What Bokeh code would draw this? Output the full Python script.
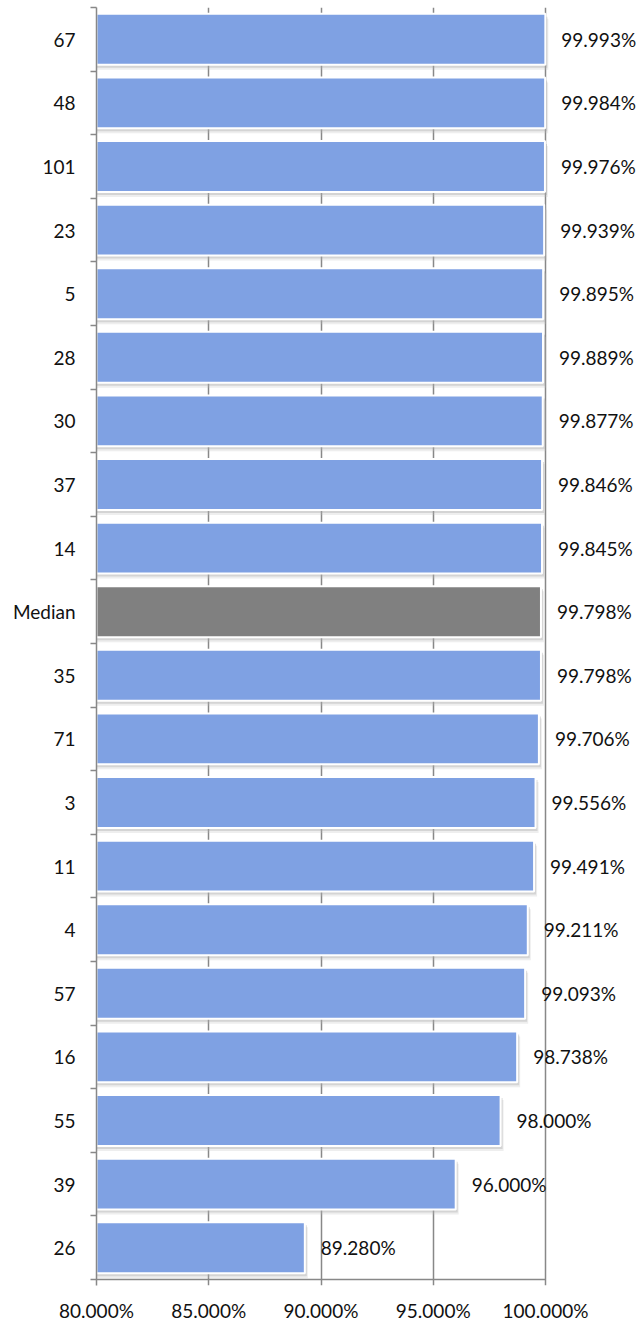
from bokeh.plotting import figure
from bokeh.models import FixedTicker, PrintfTickFormatter, ColumnDataSource, LabelSet
from bokeh.core.properties import value
from bokeh.embed import file_html
from bokeh.resources import INLINE

# data, top to bottom
categories = ["67", "48", "101", "23", "5", "28", "30", "37", "14", "Median",
              "35", "71", "3", "11", "4", "57", "16", "55", "39", "26"]
values = [99.993, 99.984, 99.976, 99.939, 99.895, 99.889, 99.877, 99.846, 99.845, 99.798,
          99.798, 99.706, 99.556, 99.491, 99.211, 99.093, 98.738, 98.000, 96.000, 89.280]
x_ticks = [80, 85, 90, 95, 100]

BLUE = "#7FA1E3"
GRAY = "#808080"
FONT = "Lato"
FS = "19px"
AXIS = "#888888"

n = len(categories)
ys = [n - 1 - i for i in range(n)]
colors = [GRAY if c == "Median" else BLUE for c in categories]
labels = ["%.3f%%" % v for v in values]

W, H = 636, 1324
LEFT, TOP, BOTTOM = 96, 7, 35
TICK = 6
unit_x = 22.45
frame_h = H - BOTTOM - TOP
unit_y = (frame_h - TICK) / n
eps = TICK / unit_y
x_end = 80 + (W - LEFT) / unit_x

p = figure(width=W, height=H, x_range=(80, x_end), y_range=(-0.5 - eps, n - 0.5),
           output_backend="svg", toolbar_location=None,
           min_border_left=LEFT, min_border_right=0, min_border_top=TOP, min_border_bottom=BOTTOM)
p.outline_line_color = None
p.background_fill_color = "white"

px_y = 1 / unit_y
px_x = 1 / unit_x

# shadow layers
src_sh = ColumnDataSource(dict(y=[y - 3 * px_y for y in ys], right=[v + 2 * px_x for v in values]))
p.hbar(y="y", left=80, right="right", height=0.8, source=src_sh,
       fill_color="#9a9a9a", fill_alpha=0.35, line_color=None)
src_sh2 = ColumnDataSource(dict(y=[y - 5 * px_y for y in ys], right=[v + 3 * px_x for v in values]))
p.hbar(y="y", left=80, right="right", height=0.8, source=src_sh2,
       fill_color="#bbbbbb", fill_alpha=0.25, line_color=None)

src = ColumnDataSource(dict(y=ys, right=values, color=colors, label=labels, cat=categories))
p.hbar(y="y", left=80, right="right", height=0.8, source=src,
       fill_color="color", line_color="white", line_width=2)

# bottom axis line (from 80% to 100% only)
p.segment(x0=[x_ticks[0]], x1=[x_ticks[-1]], y0=[-0.5], y1=[-0.5],
          line_color=AXIS, line_width=1.5)

ls = LabelSet(x="right", y="y", text="label", source=src, x_offset=16,
              text_baseline="middle", text_align="left",
              text_font=value(FONT), text_font_size=value(FS), text_color="#111111")
p.add_layout(ls)

# x axis
p.xaxis.ticker = FixedTicker(ticks=x_ticks)
p.xaxis.formatter = PrintfTickFormatter(format="%.3f%%")
p.xaxis.major_label_text_font = FONT
p.xaxis.major_label_text_font_size = FS
p.xaxis.major_label_text_color = "#111111"
p.xaxis.axis_line_color = None
p.xaxis.major_tick_line_color = None
p.xaxis.major_tick_out = 0
p.xaxis.major_tick_in = 0
p.xaxis.minor_tick_line_color = None
p.xaxis.minor_tick_out = 0
p.xaxis.major_label_standoff = 13

# y axis
p.yaxis.ticker = FixedTicker(ticks=ys, minor_ticks=[k - 0.5 for k in range(n + 1)])
p.yaxis.major_label_overrides = {y: c for y, c in zip(ys, categories)}
p.yaxis.major_label_text_font = FONT
p.yaxis.major_label_text_font_size = FS
p.yaxis.major_label_text_color = "#111111"
p.yaxis.axis_line_color = AXIS
p.yaxis.axis_line_width = 1.5
p.yaxis.major_tick_line_color = None
p.yaxis.major_tick_out = 0
p.yaxis.major_tick_in = 0
p.yaxis.minor_tick_line_color = AXIS
p.yaxis.minor_tick_line_width = 1.5
p.yaxis.minor_tick_out = TICK
p.yaxis.minor_tick_in = 0
p.yaxis.major_label_standoff = 15

p.xgrid.grid_line_color = AXIS
p.xgrid.grid_line_width = 1.5
p.ygrid.grid_line_color = None

open("out.html", "w").write(file_html(p, INLINE))
